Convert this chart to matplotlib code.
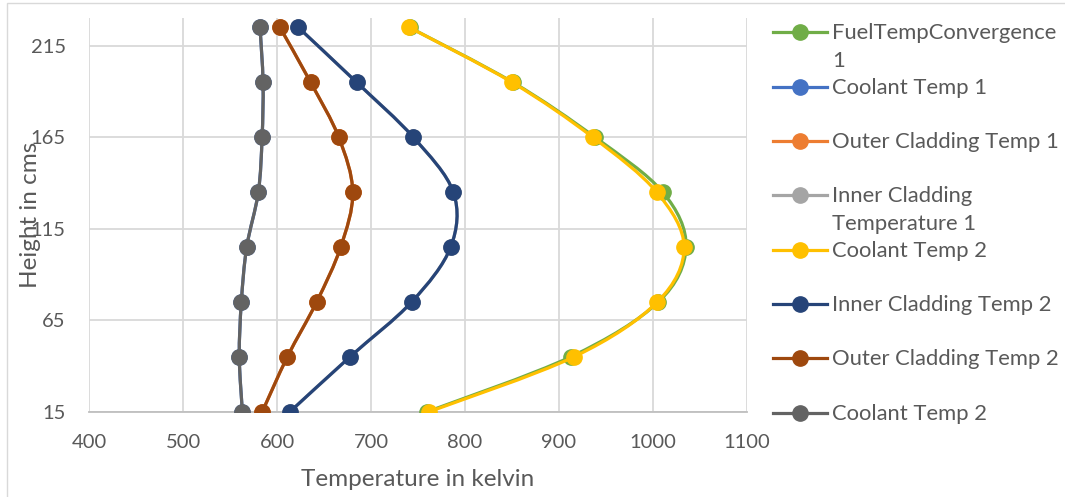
import numpy as np
import matplotlib
matplotlib.use("Agg")
import matplotlib.pyplot as plt
from matplotlib.path import Path
from matplotlib.patches import PathPatch, Rectangle
from matplotlib.lines import Line2D

plt.rcParams['font.family'] = ['Lato', 'DejaVu Sans']

# axial positions (cm) and temperatures (K)
heights = [15, 45, 75, 105, 135, 165, 195, 225]

fuel_temp_1 = [760.0, 912.6, 1006.0, 1035.4, 1010.6, 938.5, 851.0, 741.0]
coolant_temp_1 = [563.0, 559.7, 561.9, 567.6, 580.0, 584.0, 585.0, 581.8]
outer_clad_1 = [584.2, 610.9, 642.1, 667.7, 680.5, 665.6, 635.7, 603.0]
inner_clad_1 = [613.7, 677.6, 743.3, 784.8, 787.6, 745.0, 684.7, 622.6]
fuel_temp_2 = [762.1, 916.1, 1004.9, 1033.3, 1004.2, 936.1, 850.1, 740.8]
inner_clad_2 = [613.7, 677.6, 743.3, 784.8, 787.6, 745.0, 684.7, 622.6]
outer_clad_2 = [584.2, 610.9, 642.1, 667.7, 680.5, 665.6, 635.7, 603.0]
coolant_temp_2 = [563.0, 559.7, 561.9, 567.6, 580.0, 584.0, 585.0, 581.8]

labels = ["FuelTempConvergence\n1", "Coolant Temp 1", "Outer Cladding Temp 1",
          "Inner Cladding\nTemperature 1", "Coolant Temp 2", "Inner Cladding Temp 2",
          "Outer Cladding Temp 2", "Coolant Temp 2"]
series = [fuel_temp_1, coolant_temp_1, outer_clad_1, inner_clad_1,
          fuel_temp_2, inner_clad_2, outer_clad_2, coolant_temp_2]
colors = ['#70AD47', '#4472C4', '#ED7D31', '#A5A5A5',
          '#FFC000', '#264478', '#9E480E', '#636363']

x_ticks = [400, 500, 600, 700, 800, 900, 1000, 1100]
y_ticks = [15, 65, 115, 165, 215]

text_col = '#595959'
W, H = 1065, 497


def smooth_path(xs, ys):
    # Catmull-Rom style cubic Bezier through the points
    pts = np.column_stack([xs, ys]).astype(float)
    n = len(pts)
    verts = [pts[0]]
    codes = [Path.MOVETO]
    for i in range(n - 1):
        p0 = pts[max(i - 1, 0)]
        p1 = pts[i]
        p2 = pts[i + 1]
        p3 = pts[min(i + 2, n - 1)]
        verts += [p1 + (p2 - p0) / 6, p2 - (p3 - p1) / 6, p2]
        codes += [Path.CURVE4] * 3
    return Path(verts, codes)


fig = plt.figure(figsize=(W / 100, H / 100), dpi=100)
ax = fig.add_axes([89.3 / W, 1 - 411.7 / H, (746.7 - 89.3) / W, (411.7 - 18.3) / H])

for k, (vals, c) in enumerate(zip(series, colors)):
    ax.add_patch(PathPatch(smooth_path(vals, heights), facecolor='none', edgecolor=c,
                           lw=2.3, capstyle='round', joinstyle='round', zorder=3 + k))
    ax.plot(vals, heights, 'o', color=c, ms=11, mec=c, zorder=3 + k + 0.5)

ax.set_xlim(400, 1100)
ax.set_ylim(15, 230)
ax.set_xticks(x_ticks)
ax.set_yticks(y_ticks)
ax.grid(color='#D9D9D9', lw=1.3, zorder=0)
ax.set_axisbelow(True)
for s in ['left', 'right', 'top']:
    ax.spines[s].set_visible(False)
ax.spines['bottom'].set_color('#BFBFBF')
ax.spines['bottom'].set_linewidth(1.3)
ax.tick_params(length=0, labelsize=14.5, labelcolor=text_col)
ax.tick_params(axis='x', pad=16)
ax.tick_params(axis='y', pad=17)

ax.set_xlabel("Temperature in kelvin", fontsize=17.5, color=text_col, va='center')
ax.xaxis.set_label_coords(0.5, -0.1736)
ax.set_ylabel("Height in cms", fontsize=17.5, color=text_col, va='center')
ax.yaxis.set_label_coords(-0.0902, 0.5)

# legend column on the right
for i, (lab, c) in enumerate(zip(labels, colors)):
    y = 1 - (32.3 + 54.34 * i) / H
    fig.add_artist(Line2D([773 / W, 827 / W], [y, y], color=c, lw=2.3,
                          transform=fig.transFigure))
    fig.add_artist(Line2D([800 / W], [y], marker='o', ms=11, color=c,
                          transform=fig.transFigure))
    fig.text(832 / W, y + 9 / H, lab, fontsize=15.8, color=text_col,
             va='top', ha='left', linespacing=1.5)

# chart frame
fig.add_artist(Rectangle((7 / W, -0.1), 1.2, 1.1 - 3 / H, fill=False,
                         edgecolor='#D9D9D9', lw=1.0, transform=fig.transFigure))

fig.savefig("out.png", dpi=100, facecolor='white')
